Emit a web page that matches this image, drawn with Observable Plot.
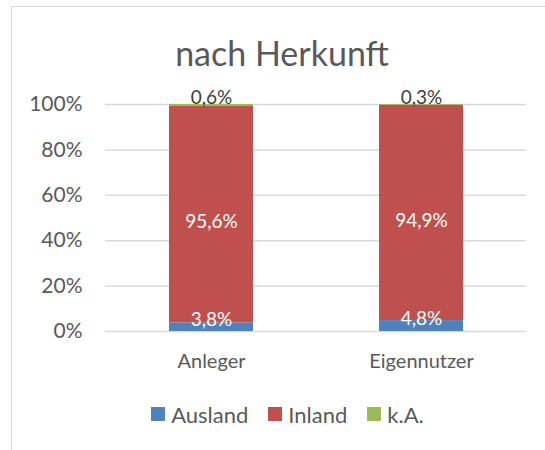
<!DOCTYPE html>
<html>
<head>
<meta charset="utf-8">
<script src="https://cdn.jsdelivr.net/npm/d3@7"></script>
<script src="https://cdn.jsdelivr.net/npm/@observablehq/plot@0.6"></script>
<style>
  html, body { margin: 0; padding: 0; background: #fff; }
  body { width: 545px; height: 450px; overflow: hidden; position: relative; font-family: Lato, "Open Sans", sans-serif; color: #595959; }
  #frame { position: absolute; left: 11px; top: 6px; width: 600px; height: 500px; border-left: 1.5px solid #d9d9d9; border-top: 1.5px solid #d9d9d9; pointer-events: none; }
  #title { height: 48px; padding-top: 36px; padding-left: 19px; font-size: 34px; line-height: 34px; text-align: center; color: #595959; }
  #legend { display: flex; justify-content: center; align-items: center; margin-top: 15px; padding-left: 30px; height: 30px; font-size: 22px; color: #595959; }
  #legend .item { display: flex; align-items: center; margin: 0 10px; }
  #legend .sw { width: 14px; height: 14px; margin-right: 6px; }
</style>
</head>
<body>
<div id="frame"></div>
<div id="title">nach Herkunft</div>
<div id="chart"></div>
<div id="legend"></div>
<script>
const categories = ["Anleger", "Eigennutzer"];
const series = ["Ausland", "Inland", "k.A."];
const ausland = [0.038, 0.048];
const inland = [0.956, 0.949];
const ka = [0.006, 0.003];
const yTicks = [0, 0.2, 0.4, 0.6, 0.8, 1];
const colors = ["#4F81BD", "#C0504D", "#9BBB59"];

const values = [ausland, inland, ka];
const rows = [];
series.forEach((s, si) => categories.forEach((c, ci) => rows.push({category: c, series: s, value: values[si][ci]})));

// label positions: midpoint of each stacked segment, computed from the data
const labels = [];
categories.forEach((c, ci) => {
  let base = 0;
  series.forEach((s, si) => {
    const v = values[si][ci];
    labels.push({category: c, series: s, value: v, mid: base + v / 2});
    base += v;
  });
});

const fmt = v => (v * 100).toFixed(1).replace(".", ",") + "%";

const chart = Plot.plot({
  width: 545,
  height: 300,
  marginTop: 20,
  marginBottom: 53,
  marginLeft: 105,
  marginRight: 19,
  style: {fontFamily: "Lato, 'Open Sans', sans-serif", fontSize: "20px", color: "#595959", background: "transparent"},
  x: {type: "band", domain: categories, paddingInner: 0.6, paddingOuter: 0.3, label: null},
  y: {domain: [0, 1], label: null},
  color: {domain: series, range: colors},
  marks: [
    Plot.ruleY(yTicks, {stroke: "#d9d9d9", strokeWidth: 1.5}),
    Plot.barY(rows, Plot.stackY({x: "category", y: "value", fill: "series", order: series, inset: 0})),
    Plot.text(labels.filter(d => d.series === "Inland"), {x: "category", y: "mid", text: d => fmt(d.value), fill: "white", fontSize: 19, dy: 8}),
    Plot.text(labels.filter(d => d.series === "Ausland"), {x: "category", y: "mid", text: d => fmt(d.value), fill: "white", fontSize: 19, dy: -7}),
    Plot.text(labels.filter(d => d.series === "k.A."), {x: "category", y: "mid", text: d => fmt(d.value), fill: "#404040", fontSize: 19, dy: -7}),
    Plot.axisY(yTicks, {tickSize: 0, tickPadding: 23, tickFormat: d => Math.round(d * 100) + "%", fontSize: 21, fill: "#595959", label: null}),
    Plot.axisX({tickSize: 0, tickPadding: 22, fontSize: 20, fill: "#595959", label: null})
  ]
});
document.getElementById("chart").appendChild(chart);

const legend = document.getElementById("legend");
series.forEach((s, i) => {
  const item = document.createElement("div");
  item.className = "item";
  const sw = document.createElement("div");
  sw.className = "sw";
  sw.style.background = colors[i];
  const label = document.createElement("span");
  label.textContent = s;
  item.appendChild(sw);
  item.appendChild(label);
  legend.appendChild(item);
});
</script>
</body>
</html>
